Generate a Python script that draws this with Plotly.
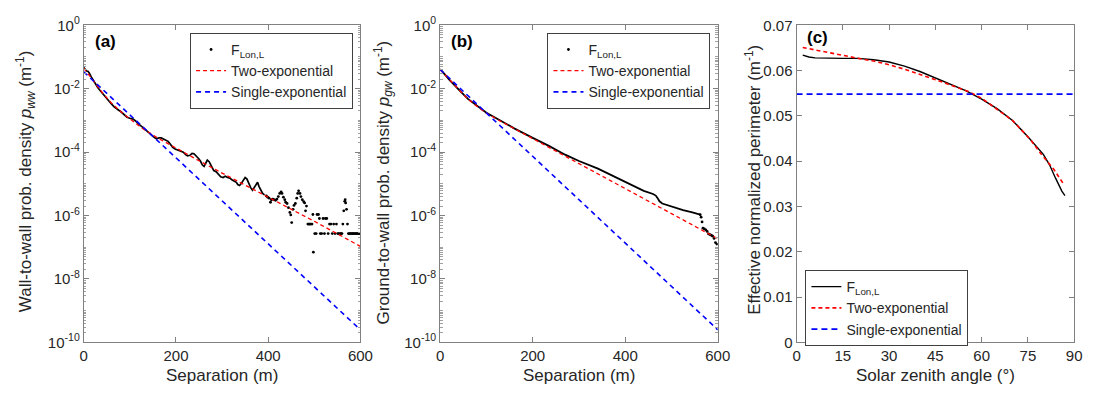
import plotly.graph_objects as go

FONT = "Arial, 'Liberation Sans', Helvetica, sans-serif"
TXT = "#262626"
AXC = "#808080"

# ---------------- Panel (a): wall-to-wall ----------------
sep_a_line = [0, 3, 6, 9, 12, 16, 20, 25, 30, 35, 40, 45, 50, 55, 60, 66, 72, 76, 80, 86,
              90, 94, 100, 106, 111, 116, 122, 128, 134, 140, 147, 154, 158, 163, 168, 173,
              178, 183, 188, 193, 198, 204, 211, 216, 221, 225, 230, 235, 239, 244, 249, 253,
              257, 261, 264, 268, 272, 277, 282, 287, 292, 297, 302, 307, 312, 317, 322, 327,
              331, 334, 338, 342, 346, 350, 354, 358, 362, 366, 370, 374, 377, 380, 384, 388, 392]
pww_line = [4.68e-2, 3.98e-2, 3.63e-2, 3.55e-2, 3.16e-2, 2.40e-2, 1.91e-2, 1.41e-2, 1.12e-2,
            8.91e-3, 7.24e-3, 6.03e-3, 5.01e-3, 3.98e-3, 3.31e-3, 2.69e-3, 2.24e-3, 2.09e-3,
            1.91e-3, 1.58e-3, 1.41e-3, 1.26e-3, 1.17e-3, 1.12e-3, 1.00e-3, 8.32e-4, 7.08e-4,
            6.03e-4, 5.01e-4, 4.27e-4, 3.55e-4, 2.82e-4, 2.63e-4, 2.82e-4, 2.82e-4, 2.63e-4,
            2.40e-4, 2.19e-4, 1.78e-4, 1.41e-4, 1.26e-4, 1.17e-4, 1.12e-4, 1.00e-4, 8.32e-5,
            7.59e-5, 7.94e-5, 9.12e-5, 8.91e-5, 7.59e-5, 6.31e-5, 5.25e-5, 3.98e-5, 3.55e-5,
            4.47e-5, 5.62e-5, 5.01e-5, 3.55e-5, 2.63e-5, 2.40e-5, 1.91e-5, 1.66e-5, 1.58e-5,
            1.74e-5, 1.58e-5, 1.51e-5, 1.32e-5, 1.20e-5, 1.12e-5, 9.55e-6, 8.91e-6, 1.05e-5,
            1.32e-5, 1.58e-5, 1.41e-5, 1.00e-5, 7.59e-6, 6.31e-6, 7.94e-6, 1.05e-5, 1.12e-5,
            8.32e-6, 6.31e-6, 5.01e-6, 4.47e-6]
sep_a_dots = [396, 399, 402, 405, 407, 410, 413, 416, 419, 422, 425, 428, 430, 433, 436, 438,
              441, 444, 447, 449, 451, 454, 456, 459, 462, 464, 466, 469, 471, 474, 477, 479,
              481, 483, 486, 488, 490, 492, 495, 497, 498, 501, 504, 506, 509, 511, 513, 516,
              519, 522, 524, 527, 530, 533, 536, 539, 542, 545, 548, 551, 553, 556, 558, 560,
              562, 564, 566, 567, 568, 570, 572, 574, 576, 578, 580, 582, 584, 586, 588, 590,
              592, 594, 596, 598, 600]
pww_dots = [4.17e-6, 3.80e-6, 3.55e-6, 2.63e-6, 3.16e-6, 3.31e-6, 3.16e-6, 3.02e-6, 3.31e-6,
            3.98e-6, 5.01e-6, 5.62e-6, 5.01e-6, 3.80e-6, 3.16e-6, 2.63e-6, 2.40e-6, 1.78e-6,
            1.26e-6, 1.05e-6, 6.03e-7, 1.58e-6, 2.09e-6, 2.40e-6, 3.55e-6, 5.01e-6, 6.03e-6,
            5.01e-6, 3.98e-6, 3.16e-6, 2.75e-6, 2.51e-6, 1.41e-6, 2.00e-6, 5.4e-7, 5.4e-7,
            5.4e-7, 5.4e-7, 5.4e-7, 1.08e-6, 7.0e-8, 2.7e-7, 2.7e-7, 1.08e-6, 1.08e-6, 8.1e-7,
            2.7e-7, 2.7e-7, 8.1e-7, 2.7e-7, 8.1e-7, 8.1e-7, 2.7e-7, 5.4e-7, 5.4e-7, 2.7e-7,
            5.4e-7, 2.7e-7, 5.4e-7, 2.7e-7, 2.7e-7, 2.7e-7, 2.7e-7, 2.7e-7, 5.4e-7, 1.41e-6,
            2.82e-6, 3.16e-6, 2.51e-6, 1.58e-6, 5.4e-7, 2.7e-7, 2.7e-7, 2.7e-7, 2.7e-7, 2.7e-7,
            2.7e-7, 2.7e-7, 2.7e-7, 2.7e-7, 2.7e-7, 2.7e-7, 2.7e-7, 2.7e-7, 2.7e-7]
sep_a_two = [0, 10, 20, 40, 60, 80, 100, 130, 160, 200, 250, 300, 400, 500, 600]
pww_two = [4.47e-2, 2.82e-2, 1.78e-2, 7.59e-3, 3.55e-3, 1.91e-3, 1.12e-3, 5.25e-4, 2.82e-4,
           1.32e-4, 5.37e-5, 2.19e-5, 3.89e-6, 6.61e-7, 1.07e-7]
sep_a_single = [0, 600]
pww_single = [3.4e-2, 2.5e-10]

# ---------------- Panel (b): ground-to-wall ----------------
sep_b_line = [0, 5, 10, 20, 30, 45, 60, 80, 100, 130, 160, 200, 235, 270, 300, 341, 380, 411,
              440, 460, 466, 470, 474, 480, 500, 525, 545, 562]
pgw_line = [4.17e-2, 3.55e-2, 2.82e-2, 1.91e-2, 1.38e-2, 7.94e-3, 4.79e-3, 2.82e-3, 1.74e-3,
            1.00e-3, 5.62e-4, 2.82e-4, 1.58e-4, 8.32e-5, 5.25e-5, 3.02e-5, 1.58e-5, 9.55e-6,
            6.03e-6, 4.79e-6, 4.27e-6, 3.55e-6, 2.82e-6, 2.40e-6, 1.91e-6, 1.48e-6, 1.26e-6, 1.07e-6]
sep_b_dots = [562, 564, 566, 568, 571, 574, 577, 580, 583, 586, 589, 592, 595, 598]
pgw_dots = [1.07e-6, 8.9e-7, 6.3e-7, 4.0e-7, 3.8e-7, 3.55e-7, 3.16e-7, 2.63e-7, 2.51e-7,
            2.40e-7, 2.24e-7, 1.91e-7, 1.41e-7, 1.26e-7]
sep_b_two = [0, 10, 20, 30, 45, 60, 80, 100, 130, 160, 200, 250, 300, 400, 500, 600]
pgw_two = [3.98e-2, 2.82e-2, 1.91e-2, 1.35e-2, 7.94e-3, 4.68e-3, 2.75e-3, 1.70e-3, 9.55e-4,
           5.50e-4, 2.69e-4, 1.07e-4, 4.37e-5, 7.08e-6, 1.15e-6, 1.86e-7]
sep_b_single = [0, 600]
pgw_single = [4.0e-2, 2.5e-10]

# ---------------- Panel (c): effective normalized perimeter ----------------
sza_black = [2, 4, 6, 10, 15, 20, 25, 30, 35, 40, 45, 50, 55, 60, 65, 70, 75, 80, 82, 84, 85, 86, 87]
per_black = [0.0634, 0.0630, 0.0628, 0.0627, 0.0627, 0.0627, 0.0624, 0.0619, 0.0610, 0.0598,
             0.0584, 0.0570, 0.0555, 0.0537, 0.0516, 0.0490, 0.0454, 0.0415, 0.0392, 0.0362,
             0.0348, 0.0334, 0.0324]
sza_two = [2, 5, 9, 15, 20, 25, 30, 35, 41, 45, 50, 56, 60, 64.4, 70, 72.9, 76, 79.3, 83.5, 86.5]
per_two = [0.0651, 0.0647, 0.0640, 0.0633, 0.0627, 0.0621, 0.0613, 0.0603, 0.0590, 0.0580,
           0.0568, 0.0553, 0.0539, 0.0518, 0.0490, 0.0469, 0.0446, 0.0416, 0.0381, 0.0350]
sza_single = [0, 90]
per_single = [0.0548, 0.0548]

log_tickvals = [1e-10, 1e-8, 1e-6, 1e-4, 1e-2, 1]
log_ticktext = ["10<sup>-10</sup>", "10<sup>-8</sup>", "10<sup>-6</sup>", "10<sup>-4</sup>",
                "10<sup>-2</sup>", "10<sup>0</sup>"]
sep_ticks = [0, 200, 400, 600]
sza_ticks = [0, 15, 30, 45, 60, 75, 90]
per_ticks = [0, 0.01, 0.02, 0.03, 0.04, 0.05, 0.06, 0.07]
per_ticktext = ["0", "0.01", "0.02", "0.03", "0.04", "0.05", "0.06", "0.07"]

F_NAME = "F<sub>Lon,L</sub>"
RED = "#ff0000"
BLUE = "#0000ff"

fig = go.Figure()

# (a)
fig.add_trace(go.Scatter(x=sep_a_line, y=pww_line, mode="lines", line=dict(color="black", width=1.7),
                         showlegend=False, xaxis="x", yaxis="y"))
fig.add_trace(go.Scatter(x=sep_a_dots, y=pww_dots, mode="markers", name=F_NAME,
                         marker=dict(color="black", size=2.8), xaxis="x", yaxis="y", legend="legend"))
fig.add_trace(go.Scatter(x=sep_a_two, y=pww_two, mode="lines", name="Two-exponential",
                         line=dict(color=RED, width=1.3, dash="4px,3px"), xaxis="x", yaxis="y", legend="legend"))
fig.add_trace(go.Scatter(x=sep_a_single, y=pww_single, mode="lines", name="Single-exponential",
                         line=dict(color=BLUE, width=1.6, dash="5px,4px"), xaxis="x", yaxis="y", legend="legend"))
# (b)
fig.add_trace(go.Scatter(x=sep_b_line, y=pgw_line, mode="lines", line=dict(color="black", width=1.8),
                         showlegend=False, xaxis="x2", yaxis="y2"))
fig.add_trace(go.Scatter(x=sep_b_dots, y=pgw_dots, mode="markers", name=F_NAME,
                         marker=dict(color="black", size=2.8), xaxis="x2", yaxis="y2", legend="legend2"))
fig.add_trace(go.Scatter(x=sep_b_two, y=pgw_two, mode="lines", name="Two-exponential",
                         line=dict(color=RED, width=1.3, dash="4px,3px"), xaxis="x2", yaxis="y2", legend="legend2"))
fig.add_trace(go.Scatter(x=sep_b_single, y=pgw_single, mode="lines", name="Single-exponential",
                         line=dict(color=BLUE, width=1.6, dash="5px,4px"), xaxis="x2", yaxis="y2", legend="legend2"))
# (c)
fig.add_trace(go.Scatter(x=sza_black, y=per_black, mode="lines", name=F_NAME,
                         line=dict(color="black", width=1.4), xaxis="x3", yaxis="y3", legend="legend3"))
fig.add_trace(go.Scatter(x=sza_two, y=per_two, mode="lines", name="Two-exponential",
                         line=dict(color=RED, width=1.6, dash="4px,3px"), xaxis="x3", yaxis="y3", legend="legend3"))
fig.add_trace(go.Scatter(x=sza_single, y=per_single, mode="lines", name="Single-exponential",
                         line=dict(color=BLUE, width=1.8, dash="6px,4px"), xaxis="x3", yaxis="y3", legend="legend3"))

W, H = 1099, 399
ydom = [1 - 348 / H, 1 - 15 / H]
xdoms = [[81 / W, 362 / W], [443 / W, 725 / W], [805 / W, 1087 / W]]

common_ax = dict(showline=True, linecolor=AXC, linewidth=1, mirror="ticks", ticks="inside",
                 ticklen=5, tickcolor=AXC, showgrid=False, zeroline=False,
                 tickfont=dict(family=FONT, size=15, color=TXT))

log_minor = dict(ticks="inside", ticklen=2.5, tickcolor="#a0a0a0", dtick="D1", showgrid=False)

fig.update_layout(
    width=W, height=H, margin=dict(l=0, r=0, t=0, b=0),
    paper_bgcolor="white", plot_bgcolor="white",
    font=dict(family=FONT, color=TXT),
    xaxis=dict(domain=xdoms[0], range=[0, 600], tickvals=sep_ticks, anchor="y", **common_ax),
    yaxis=dict(domain=ydom, type="log", range=[-10, 0], tickvals=log_tickvals, ticktext=log_ticktext,
               anchor="x", minor=log_minor, **common_ax),
    xaxis2=dict(domain=xdoms[1], range=[0, 600], tickvals=sep_ticks, anchor="y2", **common_ax),
    yaxis2=dict(domain=ydom, type="log", range=[-10, 0], tickvals=log_tickvals, ticktext=log_ticktext,
                anchor="x2", minor=log_minor, **common_ax),
    xaxis3=dict(domain=xdoms[2], range=[0, 90], tickvals=sza_ticks, anchor="y3", **common_ax),
    yaxis3=dict(domain=ydom, range=[0, 0.07], tickvals=per_ticks, ticktext=per_ticktext,
                anchor="x3", **common_ax),
)

leg_common = dict(bgcolor="white", bordercolor="#404040", borderwidth=1,
                  font=dict(family=FONT, size=14, color=TXT), xanchor="left", yanchor="top",
                  tracegroupgap=0, itemwidth=30)
fig.update_layout(
    legend=dict(x=189 / W, y=1 - 23 / H, **leg_common),
    legend2=dict(x=552 / W, y=1 - 23 / H, **leg_common),
    legend3=dict(x=814 / W, y=1 - 272 / H, **leg_common),
)

annos = []
# panel labels
for xa, ya, lab, yoff in [("x", "y", "(a)", 16.5), ("x2", "y2", "(b)", 16.5), ("x3", "y3", "(c)", 12.5)]:
    annos.append(dict(text="<b>%s</b>" % lab, xref=xa + " domain", yref=ya + " domain",
                      x=9 / 281, y=1 - yoff / 333, xanchor="left", yanchor="middle", showarrow=False,
                      font=dict(family=FONT, size=17, color="black")))
# x titles
for dom, t in [(xdoms[0], "Separation (m)"), (xdoms[1], "Separation (m)"), (xdoms[2], "Solar zenith angle (°)")]:
    annos.append(dict(text=t, xref="paper", yref="paper", x=(dom[0] + dom[1]) / 2, y=1 - 383 / H,
                      xanchor="center", yanchor="middle", showarrow=False,
                      font=dict(family=FONT, size=17, color=TXT)))
# y titles
ytitles = [(22, 179, "Wall-to-wall prob. density <i>p</i><sub><i>ww</i></sub> (m<sup>-1</sup>)"),
           (385, 180, "Ground-to-wall prob. density <i>p</i><sub><i>gw</i></sub> (m<sup>-1</sup>)"),
           (760, 177, "Effective normalized perimeter (m<sup>-1</sup>)")]
for xp, yp, t in ytitles:
    annos.append(dict(text=t, xref="paper", yref="paper", x=xp / W, y=1 - yp / H, textangle=-90,
                      xanchor="center", yanchor="middle", showarrow=False,
                      font=dict(family=FONT, size=17, color=TXT)))
fig.update_layout(annotations=annos)

fig.write_html("out.html")
